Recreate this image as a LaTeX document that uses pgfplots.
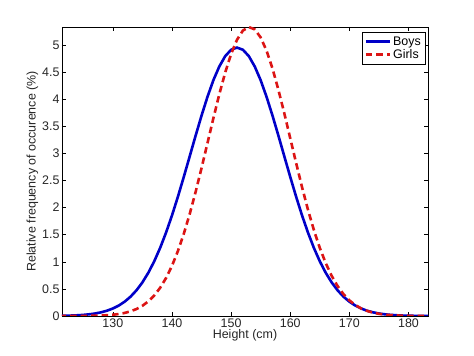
\documentclass[border=0pt]{standalone}
\usepackage{pgfplots}
\pgfplotsset{compat=1.18}
\usepackage{fontspec}
\setmainfont{Liberation Sans}
\definecolor{boys}{RGB}{0,0,200}
\definecolor{girls}{RGB}{220,20,20}
\begin{document}
\begin{tikzpicture}
\begin{axis}[
  scale only axis,
  width=366bp, height=289bp,
  xmin=121.4, xmax=183.3,
  ymin=0, ymax=5.33,
  xtick={130,140,150,160,170,180},
  ytick={0,0.5,1,1.5,2,2.5,3,3.5,4,4.5,5},
  tick align=inside,
  major tick length=4bp,
  tick style={black, line width=0.5bp},
  axis line style={black, line width=0.6bp},
  /pgf/number format/assume math mode=true,
  /pgf/number format/fixed,
  yticklabel style={/pgf/number format/precision=1, xshift=1bp},
  xticklabel style={yshift=1bp},
  tick label style={font=\fontsize{12.5}{14}\selectfont, text=black!85},
  label style={font=\fontsize{12.5}{14}\selectfont, text=black!85},
  xlabel={Height (cm)},
  ylabel={Relative frequency of occurence (\%)},
  xlabel style={yshift=2bp, inner sep=1bp},
  ylabel style={yshift=-3bp},
  legend style={at={(rel axis cs:0.992,0.982)}, anchor=north east,
    font=\fontsize{12.5}{14}\selectfont, draw=black, line width=0.5bp,
    inner sep=2bp, row sep=-1bp, cells={anchor=west}},
  legend cell align=left,
  legend image post style={line width=2.5bp},
  legend image code/.code={\draw[#1] (0cm,0cm) -- (0.85cm,0cm);},
]
\coordinate (sw) at (rel axis cs:0,0);
\coordinate (ne) at (rel axis cs:1,1);
\addplot[boys, line width=2.6bp] coordinates {
(121,0.0033)(122,0.0054)(123,0.0085)(124,0.0134)(125,0.0205)(126,0.0311)
(127,0.0462)(128,0.0677)(129,0.0975)(130,0.1382)(131,0.1927)(132,0.2645)
(133,0.3571)(134,0.4745)(135,0.6203)(136,0.7975)(137,1.0093)(138,1.2563)
(139,1.539)(140,1.854)(141,2.199)(142,2.566)(143,2.945)(144,3.326)
(145,3.696)(146,4.041)(147,4.348)(148,4.601)(149,4.792)(150,4.910)
(151,4.95)(152,4.910)(153,4.792)(154,4.601)(155,4.348)(156,4.041)
(157,3.696)(158,3.326)(159,2.945)(160,2.566)(161,2.199)(162,1.854)
(163,1.539)(164,1.2563)(165,1.0093)(166,0.7975)(167,0.6203)(168,0.4745)
(169,0.3571)(170,0.2645)(171,0.1927)(172,0.1382)(173,0.0975)(174,0.0677)
(175,0.0462)(176,0.0311)(177,0.0205)(178,0.0134)(179,0.0085)(180,0.0054)
(181,0.0033)(182,0.0020)(183,0.0012)(184,0.0007)
};
\addlegendentry{Boys}
\addplot[girls, line width=2.6bp, dash pattern=on 6.5bp off 4bp] coordinates {
(121,0.0001)(122,0.0003)(123,0.0005)(124,0.0009)(125,0.0017)(126,0.0030)
(127,0.0051)(128,0.0086)(129,0.0142)(130,0.0230)(131,0.0365)(132,0.0567)
(133,0.0863)(134,0.1288)(135,0.1882)(136,0.2696)(137,0.3783)(138,0.5202)
(139,0.7009)(140,0.9253)(141,1.1966)(142,1.5164)(143,1.882)(144,2.289)
(145,2.729)(146,3.187)(147,3.646)(148,4.088)(149,4.490)(150,4.832)
(151,5.095)(152,5.265)(153,5.329)(154,5.286)(155,5.137)(156,4.892)
(157,4.564)(158,4.172)(159,3.737)(160,3.279)(161,2.820)(162,2.375)
(163,1.960)(164,1.586)(165,1.256)(166,0.976)(167,0.742)(168,0.553)
(169,0.404)(170,0.289)(171,0.2026)(172,0.1392)(173,0.0937)(174,0.0618)
(175,0.0399)(176,0.0253)(177,0.0157)(178,0.0095)(179,0.0057)(180,0.0033)
(181,0.0019)(182,0.0011)(183,0.0006)(184,0.0003)
};
\addlegendentry{Girls}
\end{axis}
\pgfresetboundingbox
\path ([shift={(-62bp,-39.3bp)}]sw) rectangle ([shift={(46bp,27bp)}]ne);
\end{tikzpicture}
\end{document}
